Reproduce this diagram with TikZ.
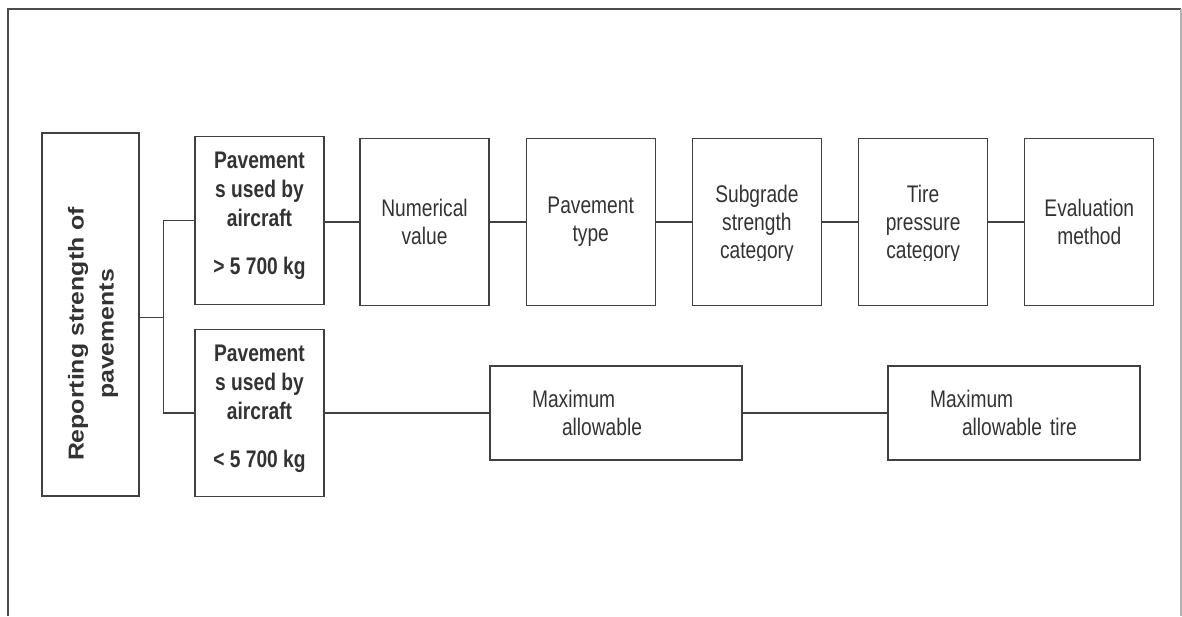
\documentclass[tikz,border=0pt]{standalone}
\usepackage{fontspec}
\usepackage{graphicx}
\setmainfont{Liberation Sans}[FakeStretch=0.8]
\newfontfamily\uprightfont{Liberation Sans}[FakeStretch=1.15]
\usetikzlibrary{positioning}
\definecolor{linegray}{HTML}{404040}
\definecolor{textgray}{HTML}{333333}
\tikzset{
  box/.style={draw=linegray,line width=1.2pt,inner sep=0pt,text=textgray,align=center,font=\fontsize{24}{28}\selectfont},
  rowbox/.style={box,minimum width=129pt,minimum height=167.4pt},
  classbox/.style={rowbox,text depth=14pt,font=\fontsize{24}{29}\selectfont\bfseries},
  limitbox/.style={box,minimum width=252pt,minimum height=94pt,text width=168pt,align=left},
  boxtext/.style={inner sep=0pt,text=textgray,align=center,font=\fontsize{24}{28}\selectfont},
  link/.style={draw=linegray,line width=1.2pt}
}
\begin{document}
\begin{tikzpicture}[x=1pt,y=-1pt]
\useasboundingbox (0,0) rectangle (1182,616);
\draw[black!70,line width=1.2pt](8,616)--(8,9)--(1181,9);
\draw[black!30,line width=1.2pt](1181,9)--(1181,616);
\node[box,minimum width=97pt,minimum height=363pt](root)at(90.5,314.5){};
\node[boxtext,rotate=90,font=\uprightfont\fontsize{21.6}{30}\selectfont\bfseries](roottext)at(93,334){Reporting strength of\\pavements};
\node[classbox](hi)at(259.5,220.5){Pavement\\s used by\\aircraft\\[19pt]> 5 700 kg};
\node[classbox](lo)at(259.5,413){Pavement\\s used by\\aircraft\\[19pt]< 5 700 kg};
\node[rowbox](nv)at(424.5,222){Numerical\\value};
\node[rowbox,right=36pt of nv](pt){Pavement\\type};
\node[rowbox,right=36pt of pt](sg){};
\node[rowbox,right=36pt of sg](tp){};
\node[rowbox,right=36pt of tp](em){Evaluation\\method};
\begin{scope}
\clip(680,140)rectangle(1000,260);
\node[boxtext](sgtext)at([yshift=-2.3pt]sg.center){Subgrade\\strength\\category};
\node[boxtext](tptext)at([yshift=-2.3pt]tp.center){Tire\\pressure\\category};
\end{scope}
\node[limitbox](ma)at(616,413){Maximum\\\hspace*{30pt}allowable};
\node[limitbox](mat)at(1014,413){Maximum\\\hspace*{32pt}allowable tire};
\coordinate(trunk)at(163.5,317.5);
\draw[link](root.east|-trunk)--(trunk);
\draw[link](hi.west)-|(trunk)|-(lo.west);
\draw[link](hi.east|-nv)--(nv)--(pt)--(sg)--(tp)--(em);
\draw[link](lo)--(ma)--(mat);
\end{tikzpicture}
\end{document}
